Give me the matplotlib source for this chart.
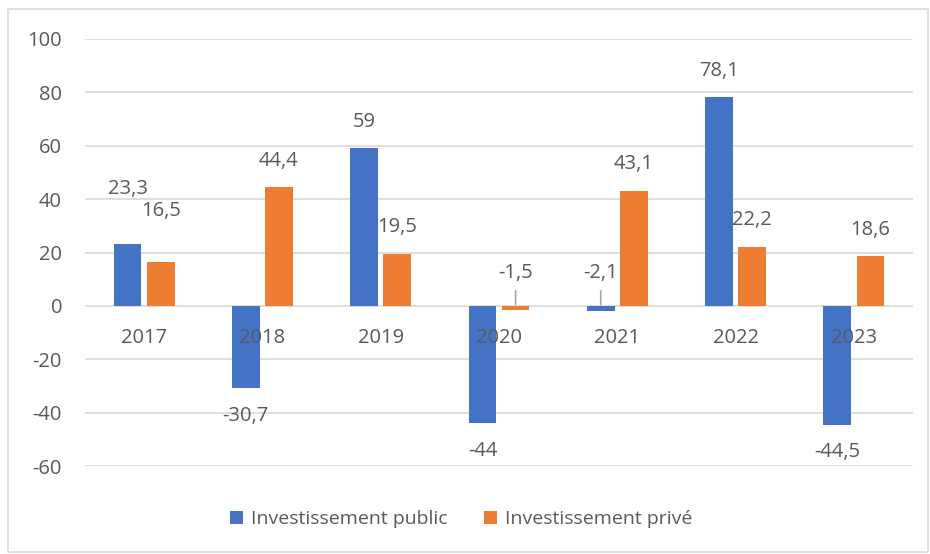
import numpy as np
import matplotlib.pyplot as plt
from matplotlib.patches import Rectangle

years = ["2017", "2018", "2019", "2020", "2021", "2022", "2023"]
public = [23.3, -30.7, 59, -44, -2.1, 78.1, -44.5]
prive = [16.5, 44.4, 19.5, -1.5, 43.1, 22.2, 18.6]

blue = "#4472C4"
orange = "#ED7D31"
grey = "#595959"
fs = 14.5

plt.rcParams["font.family"] = ["Open Sans", "DejaVu Sans"]
plt.rcParams["axes.unicode_minus"] = False

fig = plt.figure(figsize=(9.3, 5.54), dpi=100)
ax = fig.add_axes([85 / 930, 1 - 466 / 554, 828 / 930, 427 / 554])
fig.patches.append(Rectangle((8 / 930, 2 / 554), 920 / 930, 543 / 554, transform=fig.transFigure,
                             fill=False, edgecolor="#D9D9D9", linewidth=1.2))

x = np.arange(len(years))
w = 0.235
off = 0.14
yt = np.arange(-60, 101, 20)
ax.hlines(yt, -0.5, len(years) - 0.5, color="#D9D9D9", linewidth=1.2, zorder=1)
b1 = ax.bar(x - off, public, w, color=blue, label="Investissement public", zorder=2)
b2 = ax.bar(x + off, prive, w, color=orange, label="Investissement privé", zorder=2)

ax.set_axisbelow(False)
ax.set_xlim(-0.5, len(years) - 0.5)
ax.set_ylim(-60, 100)
ax.set_yticks(yt)
for s in ax.spines.values():
    s.set_visible(False)
ax.spines["bottom"].set_position(("data", 0))
ax.set_xticks(x)
ax.set_xticklabels(years)
ax.tick_params(axis="both", length=0, labelsize=fs, labelcolor=grey)
ax.tick_params(axis="x", pad=16)
ax.tick_params(axis="y", pad=16.5)


def fmt(v):
    return f"{v:g}".replace(".", ",")


# label offsets in points; the two 2017 labels and the tiny negatives were moved by hand
extra = {(0, 0): 20.6, (0, 1): 17.7}
for k, (bars, vals) in enumerate([(b1, public), (b2, prive)]):
    for i, (r, v) in enumerate(zip(bars, vals)):
        cx = r.get_x() + r.get_width() / 2
        if abs(v) < 5:
            ax.annotate(fmt(v), (cx, 0), xytext=(0, 24), textcoords="offset points",
                        ha="center", va="center", fontsize=fs, color=grey,
                        arrowprops=dict(arrowstyle="-", color="#A6A6A6", lw=1.2,
                                        shrinkA=4, shrinkB=1))
        elif v >= 0:
            ax.annotate(fmt(v), (cx, v), xytext=(0, 19 + extra.get((i, k), 0)), textcoords="offset points",
                        ha="center", va="center", fontsize=fs, color=grey)
        else:
            ax.annotate(fmt(v), (cx, v), xytext=(0, -20), textcoords="offset points",
                        ha="center", va="center", fontsize=fs, color=grey)

ax.legend(loc="center", bbox_to_anchor=(461 / 930, 1 - 519 / 554), bbox_transform=fig.transFigure,
          ncol=2, frameon=False, fontsize=14, labelcolor=grey, handlelength=0.65, handleheight=0.65,
          handletextpad=0.4, columnspacing=1.9)

fig.savefig("out.png", dpi=100)
